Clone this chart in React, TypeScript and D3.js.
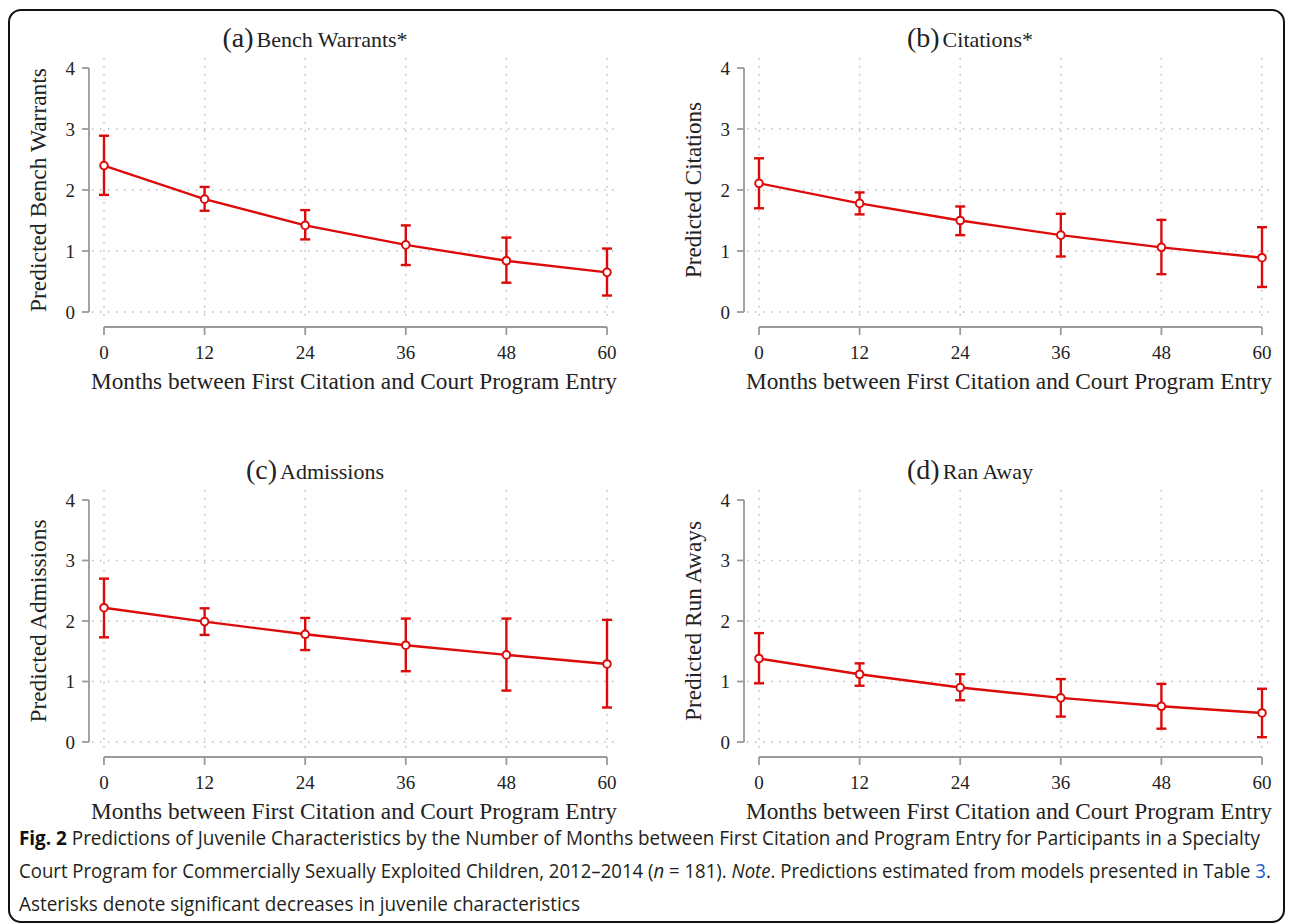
import React, { useLayoutEffect, useRef, useState } from "react";
import * as d3 from "d3";

const months = [0, 12, 24, 36, 48, 60];
const yTicks = [0, 1, 2, 3, 4];
const gridY = [0, 1, 2, 3];

const benchEst = [2.4, 1.85, 1.42, 1.1, 0.84, 0.65];
const benchLo = [1.92, 1.66, 1.19, 0.77, 0.48, 0.27];
const benchHi = [2.89, 2.05, 1.67, 1.42, 1.22, 1.04];

const citEst = [2.11, 1.78, 1.5, 1.26, 1.06, 0.89];
const citLo = [1.7, 1.6, 1.26, 0.91, 0.62, 0.41];
const citHi = [2.52, 1.96, 1.73, 1.61, 1.51, 1.39];

const admEst = [2.22, 1.99, 1.78, 1.6, 1.44, 1.29];
const admLo = [1.73, 1.77, 1.52, 1.17, 0.85, 0.57];
const admHi = [2.7, 2.21, 2.05, 2.04, 2.04, 2.02];

const runEst = [1.38, 1.12, 0.9, 0.73, 0.59, 0.48];
const runLo = [0.97, 0.93, 0.69, 0.42, 0.22, 0.08];
const runHi = [1.8, 1.3, 1.12, 1.04, 0.96, 0.88];

const panelLetters = ["(a)", "(b)", "(c)", "(d)"];
const panelTitles = ["Bench Warrants*", "Citations*", "Admissions", "Ran Away"];
const yTitles = [
  "Predicted Bench Warrants",
  "Predicted Citations",
  "Predicted Admissions",
  "Predicted Run Aways",
];
const yTitleLengths = [244, 176, 203, 200];
const xTitle = "Months between First Citation and Court Program Entry";

const captionTargets = [1243, 1253, 561];

const RED = "#dd0a0a";
const AXIS = "#9a9a9a";
const GRID = "#b8b8b8";
const SERIF = "'Liberation Serif', 'Times New Roman', serif";
const SANS = "'Open Sans', 'Noto Sans', sans-serif";

type PanelProps = {
  idx: number;
  dx: number;
  yTop: number;
  yBot: number;
  est: number[];
  lo: number[];
  hi: number[];
};

function Panel({ idx, dx, yTop, yBot, est, lo, hi }: PanelProps) {
  const x = d3.scaleLinear().domain([0, 60]).range([104 + dx, 607 + dx]);
  const y = d3.scaleLinear().domain([0, 4]).range([yBot, yTop]);
  const axisX = 89 + dx;
  const axisY = yBot + 15;
  const pts = months.map((m, i) => [m, est[i]] as [number, number]);
  const line = d3
    .line<[number, number]>()
    .x((d) => x(d[0]))
    .y((d) => y(d[1]));
  const titleCx = 315 + dx;
  const titleY = yTop - 21;
  return (
    <g>
      {gridY.map((v) => (
        <line
          key={"gy" + v}
          x1={92 + dx}
          x2={617 + dx}
          y1={y(v)}
          y2={y(v)}
          stroke={GRID}
          strokeWidth={1.4}
          strokeDasharray="1.4,6.6"
        />
      ))}
      {months.map((m) => (
        <line
          key={"gx" + m}
          x1={x(m)}
          x2={x(m)}
          y1={yTop - 10}
          y2={yBot + 7}
          stroke={GRID}
          strokeWidth={1.4}
          strokeDasharray="1.4,6.6"
        />
      ))}
      <line x1={axisX} x2={axisX} y1={y(4)} y2={y(0)} stroke={AXIS} strokeWidth={1.8} />
      {yTicks.map((v) => (
        <g key={"yt" + v}>
          <line x1={axisX - 7} x2={axisX} y1={y(v)} y2={y(v)} stroke={AXIS} strokeWidth={1.8} />
          <text
            x={axisX - 14}
            y={y(v) + 6.5}
            textAnchor="end"
            fontFamily={SERIF}
            fontSize={19}
            fill="#222"
          >
            {v}
          </text>
        </g>
      ))}
      <line x1={x(0)} x2={x(60)} y1={axisY} y2={axisY} stroke={AXIS} strokeWidth={1.8} />
      {months.map((m) => (
        <g key={"xt" + m}>
          <line x1={x(m)} x2={x(m)} y1={axisY} y2={axisY + 8} stroke={AXIS} strokeWidth={1.8} />
          <text
            x={x(m)}
            y={axisY + 32}
            textAnchor="middle"
            fontFamily={SERIF}
            fontSize={19}
            fill="#222"
          >
            {m}
          </text>
        </g>
      ))}
      <text
        x={354 + dx}
        y={axisY + 62}
        textAnchor="middle"
        fontFamily={SERIF}
        fontSize={24}
        fill="#222"
        textLength={526}
        lengthAdjust="spacingAndGlyphs"
      >
        {xTitle}
      </text>
      <text
        transform={`translate(${46 + dx},${(yTop + yBot) / 2}) rotate(-90)`}
        textAnchor="middle"
        fontFamily={SERIF}
        fontSize={24}
        fill="#222"
        textLength={yTitleLengths[idx]}
        lengthAdjust="spacingAndGlyphs"
      >
        {yTitles[idx]}
      </text>
      <text x={titleCx} y={titleY} textAnchor="middle" fontFamily={SERIF} fill="#222">
        <tspan fontSize={28}>{panelLetters[idx]}</tspan>
        <tspan fontSize={22} dx={3}>
          {panelTitles[idx]}
        </tspan>
      </text>
      {months.map((m, i) => (
        <g key={"eb" + m} stroke={RED} strokeWidth={2.4} fill="none">
          <line x1={x(m)} x2={x(m)} y1={y(lo[i])} y2={y(hi[i])} />
          <line x1={x(m) - 5} x2={x(m) + 5} y1={y(lo[i])} y2={y(lo[i])} />
          <line x1={x(m) - 5} x2={x(m) + 5} y1={y(hi[i])} y2={y(hi[i])} />
        </g>
      ))}
      <path d={line(pts) || ""} fill="none" stroke={RED} strokeWidth={2.4} />
      {pts.map((p) => (
        <circle
          key={"pt" + p[0]}
          cx={x(p[0])}
          cy={y(p[1])}
          r={3.8}
          fill="#fff"
          stroke={RED}
          strokeWidth={2}
        />
      ))}
    </g>
  );
}

export default function App() {
  const capColor = "#231f20";
  const r0 = useRef<SVGTextElement>(null);
  const r1 = useRef<SVGTextElement>(null);
  const r2 = useRef<SVGTextElement>(null);
  const [scales, setScales] = useState<number[]>([1, 1, 1]);

  useLayoutEffect(() => {
    const refs = [r0, r1, r2];
    const s = refs.map((r, i) => {
      const el = r.current;
      if (!el) return 1;
      const w = el.getBBox().width;
      return w > 0 ? captionTargets[i] / w : 1;
    });
    setScales(s);
  }, []);

  return (
    <svg
      width={1290}
      height={923}
      style={{ position: "absolute", left: 0, top: 0, background: "#fff" }}
    >
      <rect x={0} y={0} width={1290} height={923} fill="#fff" />
      <rect
        x={9}
        y={10}
        width={1275}
        height={912}
        rx={12}
        ry={12}
        fill="none"
        stroke="#111"
        strokeWidth={2}
      />
      <Panel idx={0} dx={0} yTop={68} yBot={312} est={benchEst} lo={benchLo} hi={benchHi} />
      <Panel idx={1} dx={655} yTop={68} yBot={312} est={citEst} lo={citLo} hi={citHi} />
      <Panel idx={2} dx={0} yTop={500} yBot={742} est={admEst} lo={admLo} hi={admHi} />
      <Panel idx={3} dx={655} yTop={500} yBot={742} est={runEst} lo={runLo} hi={runHi} />
      <g transform={`translate(19,845) scale(${scales[0]},1)`}>
        <text ref={r0} x={0} y={0} fontFamily={SANS} fontSize={20} fill={capColor}>
          <tspan fontWeight="bold" fill="#111">Fig. 2</tspan>
          <tspan>
            {" "}Predictions of Juvenile Characteristics by the Number of Months between First Citation and Program Entry for Participants in a Specialty
          </tspan>
        </text>
      </g>
      <g transform={`translate(19,878) scale(${scales[1]},1)`}>
        <text ref={r1} x={0} y={0} fontFamily={SANS} fontSize={20} fill={capColor}>
          <tspan>Court Program for Commercially Sexually Exploited Children, 2012–2014 (</tspan>
          <tspan fontStyle="italic">n</tspan>
          <tspan> = 181). </tspan>
          <tspan fontStyle="italic">Note</tspan>
          <tspan>. Predictions estimated from models presented in Table </tspan>
          <tspan fill="#1a5fd0">3</tspan>
          <tspan>.</tspan>
        </text>
      </g>
      <g transform={`translate(19,911) scale(${scales[2]},1)`}>
        <text ref={r2} x={0} y={0} fontFamily={SANS} fontSize={20} fill={capColor}>
          Asterisks denote significant decreases in juvenile characteristics
        </text>
      </g>
    </svg>
  );
}
